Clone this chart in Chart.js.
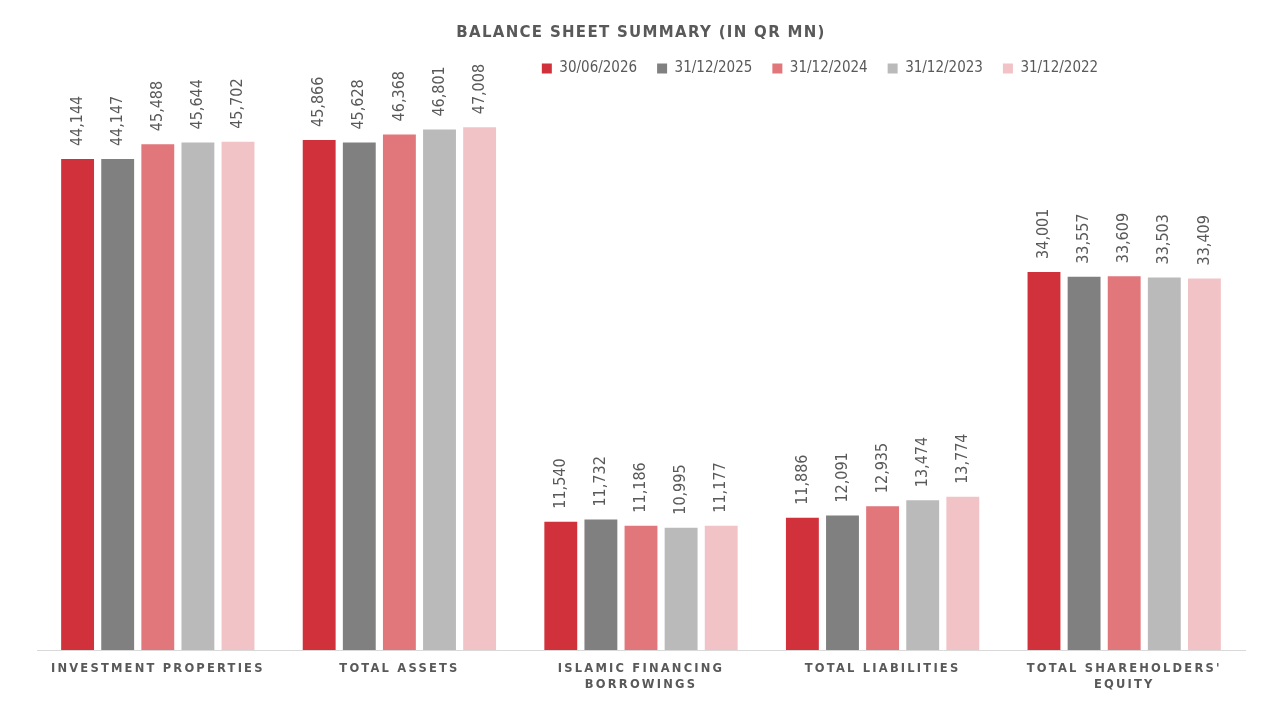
<!DOCTYPE html>
<html>
<head>
<meta charset="utf-8">
<script src="https://cdn.jsdelivr.net/npm/chart.js@4.4.1/dist/chart.umd.min.js"></script>
<style>
  html, body { margin: 0; padding: 0; background: #fff; }
  #wrap { width: 1280px; height: 720px; }
</style>
</head>
<body>
<div id="wrap"><canvas id="bs-chart"></canvas></div>
<script>
// balance sheet values, QR mn
const categories = [
    'INVESTMENT PROPERTIES',
    'TOTAL ASSETS',
    ['ISLAMIC FINANCING', 'BORROWINGS'],
    'TOTAL LIABILITIES',
    ["TOTAL SHAREHOLDERS'", 'EQUITY']
];
const periods = ['30/06/2026', '31/12/2025', '31/12/2024', '31/12/2023', '31/12/2022'];
const jun2026 = [44144, 45866, 11540, 11886, 34001];
const dec2025 = [44147, 45628, 11732, 12091, 33557];
const dec2024 = [45488, 46368, 11186, 12935, 33609];
const dec2023 = [45644, 46801, 10995, 13474, 33503];
const dec2022 = [45702, 47008, 11177, 13774, 33409];
const barColors = ['#D1313B', '#808080', '#E1767B', '#BABABA', '#F2C3C6'];

const labelGrey = '#595959';

// value labels standing on top of each bar, rotated
const barValueLabels = {
    id: 'barValueLabels',
    afterDatasetsDraw(chart) {
        const ctx = chart.ctx;
        ctx.save();
        ctx.letterSpacing = '0px';
        ctx.font = '16px "DejaVu Sans Condensed", "DejaVu Sans", sans-serif';
        ctx.fillStyle = labelGrey;
        ctx.textAlign = 'left';
        ctx.textBaseline = 'middle';
        chart.data.datasets.forEach((ds, i) => {
            chart.getDatasetMeta(i).data.forEach((bar, j) => {
                ctx.save();
                ctx.translate(bar.x, bar.y - 13);
                ctx.rotate(-Math.PI / 2);
                ctx.fillText(ds.data[j].toLocaleString('en-US'), 0, 0);
                ctx.restore();
            });
        });
        ctx.restore();
    }
};

function withSpacing(chart, obj, fn, px) {
    if (!obj || obj['_sp_' + fn]) return;
    const orig = obj[fn];
    obj[fn] = function () {
        chart.ctx.save();
        chart.ctx.letterSpacing = px;
        orig.apply(this, arguments);
        chart.ctx.restore();
    };
    obj['_sp_' + fn] = true;
}

// spaced caps for title and axis, plain text for legend
const spacing = {
    id: 'spacing',
    beforeDraw(chart) {
        chart.ctx.letterSpacing = '1.3px';
        withSpacing(chart, chart.legend, 'draw', '0px');
        withSpacing(chart, chart.scales.x, 'drawLabels', '2.2px');
    },
    afterUpdate(chart) {
        // legend sits right of centre and a bit higher in the original
        const lg = chart.legend;
        lg.left += 179;
        lg.right += 179;
        lg.top -= 8;
        lg.bottom -= 8;
    }
};

const ds = [jun2026, dec2025, dec2024, dec2023, dec2022].map((vals, i) => ({
    label: periods[i],
    data: vals,
    backgroundColor: barColors[i],
    borderWidth: 0,
    barPercentage: 0.82,
    categoryPercentage: 0.83
}));

new Chart(document.getElementById('bs-chart'), {
    type: 'bar',
    data: { labels: categories, datasets: ds },
    plugins: [barValueLabels, spacing],
    options: {
        responsive: true,
        maintainAspectRatio: false,
        animation: false,
        layout: { padding: { left: 37, right: 35, top: 7, bottom: 24 } },
        plugins: {
            title: {
                display: true,
                text: 'BALANCE SHEET SUMMARY (IN QR MN)',
                color: labelGrey,
                font: { family: '"DejaVu Sans", sans-serif', size: 15, weight: 'bold' },
                padding: { top: 17, bottom: 7 }
            },
            legend: {
                display: true,
                position: 'top',
                labels: {
                    color: labelGrey,
                    font: { family: '"DejaVu Sans Condensed", "DejaVu Sans", sans-serif', size: 15 },
                    boxWidth: 10,
                    boxHeight: 10,
                    padding: 20
                }
            },
            tooltip: { enabled: false }
        },
        scales: {
            x: {
                grid: { display: false },
                border: { color: '#D9D9D9', width: 1 },
                ticks: {
                    color: labelGrey,
                    font: { family: '"DejaVu Sans", sans-serif', size: 11.5, weight: 'bold', lineHeight: 1.39 },
                    maxRotation: 0,
                    autoSkip: false,
                    padding: 3
                }
            },
            y: {
                display: false,
                min: 0,
                max: 50000
            }
        }
    }
});
</script>
</body>
</html>
